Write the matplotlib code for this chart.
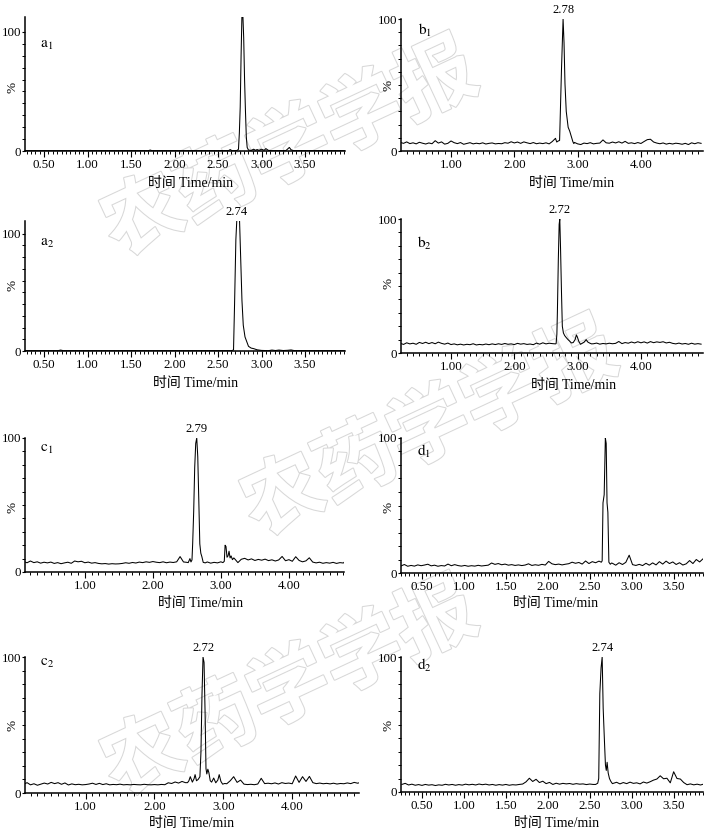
import numpy as np
import matplotlib
matplotlib.use('Agg')
import matplotlib.pyplot as plt
import matplotlib.patheffects as pe
from matplotlib.ticker import MultipleLocator, FixedLocator, FormatStrFormatter

plt.rcParams['font.family'] = ['Liberation Serif', 'Noto Sans CJK SC']
plt.rcParams['mathtext.fontset'] = 'stix'

# ---- data (relative abundance %, time in min) ----
# a1 / a2: clean standards, sparse points
a1_t = [0.28, 1.70, 1.72, 1.74, 2.55, 2.62, 2.64, 2.66, 2.70, 2.72,
        2.735, 2.745, 2.755, 2.765, 2.775, 2.785, 2.795, 2.805, 2.815, 2.825,
        2.835, 2.85, 2.88, 2.91, 2.93, 2.95, 2.97, 3.00, 3.03, 3.05,
        3.08, 3.12, 3.28, 3.32, 3.34, 3.37, 3.45, 3.96]
a1_y = [0.3, 0.3, 0.8, 0.3, 0.3, 0.3, 1.2, 0.3, 0.3, 0.5,
        1.5, 15, 37, 80, 115, 115, 95, 60, 34, 12,
        3, 0.8, 0.5, 1.5, 0.6, 1.2, 0.5, 1.5, 0.6, 2.0,
        0.5, 0.3, 0.3, 3.0, 1.0, 0.3, 0.3, 0.3]

a2_t = [0.28, 0.66, 0.69, 0.72, 2.25, 2.66, 2.678, 2.69, 2.705, 2.716,
        2.73, 2.747, 2.76, 2.775, 2.79, 2.81, 2.83, 2.85, 2.88, 2.91,
        2.95, 3.00, 3.08, 3.12, 3.16, 3.20, 3.25, 3.30, 3.34, 3.38, 3.96]
a2_y = [0.3, 0.3, 0.8, 0.3, 0.3, 0.3, 1.0, 40, 95, 112,
        112, 112, 80, 43, 22, 12, 8, 4, 2.5, 2.0,
        1.0, 0.5, 0.3, 0.8, 0.4, 0.8, 0.4, 0.6, 0.9, 0.3, 0.3]

# noisy traces: baseline samples on a scan grid + peak segments
b1_t0, b1_dt = 0.20, 0.05
b1_base = [6.5, 5.8, 6.9, 5.6, 6.2, 5.4, 6.6, 5.9, 5.3, 6.1,
           5.5, 7.8, 6.0, 6.9, 5.2, 5.8, 7.6, 6.3, 5.6, 6.4,
           5.1, 5.7, 6.3, 5.4, 5.9, 5.5, 6.2, 5.3, 5.8, 6.1,
           5.4, 5.7, 5.5, 6.3, 5.9, 7.0, 6.1, 6.8, 5.8, 6.9,
           6.2, 5.6, 6.4, 5.5, 6.0, 5.6, 6.2, 5.4, 7.2, 9.6,
           7.0, 6.5, 6.5, 6.5, 6.5, 6.5, 5.4, 4.9, 6.0, 5.6,
           6.3, 5.4, 5.8, 6.0, 8.4, 6.2, 5.9, 6.8, 6.1, 7.0,
           6.0, 7.3, 5.8, 6.2, 5.6, 6.4, 5.7, 7.2, 8.6, 8.9,
           6.8, 6.0, 5.5, 6.1, 5.2, 5.8, 5.3, 5.9, 5.6, 5.1,
           5.8, 4.9, 6.2, 5.5, 6.3, 5.8]
b1_peak_t = [2.67, 2.69, 2.715, 2.725, 2.745, 2.77, 2.785, 2.80, 2.82, 2.85,
             2.875, 2.90, 2.925, 2.94]
b1_peak_y = [6.8, 7.5, 8.0, 26, 62, 100, 82, 51, 30, 18,
             15, 11, 7, 5.6]

b2_t0, b2_dt = 0.20, 0.05
b2_base = [7.2, 6.4, 7.6, 6.8, 7.3, 6.5, 7.9, 7.1, 8.0, 7.0,
           7.8, 6.9, 8.1, 7.2, 6.6, 7.4, 6.3, 6.8, 6.1, 6.6,
           6.0, 6.5, 6.2, 6.9, 6.0, 6.4, 6.1, 6.7, 6.2, 6.8,
           6.3, 6.9, 6.4, 7.1, 6.5, 6.8, 6.3, 7.2, 6.6, 7.0,
           6.4, 6.7, 6.2, 7.4, 6.6, 7.6, 6.8, 7.3, 7.0, 6.8,
           7.0, 7.0, 7.0, 7.0, 7.0, 7.0, 7.0, 7.0, 7.0, 7.0, 7.0,
           6.9, 7.4, 6.6, 7.1, 6.8, 7.3, 6.9, 7.2, 8.6, 7.0,
           7.8, 7.3, 8.2, 7.5, 8.4, 7.6, 8.3, 7.4, 8.5, 7.7,
           8.3, 7.9, 8.4, 7.5, 8.0, 7.2, 6.8, 7.4, 6.7, 7.1,
           6.5, 7.3, 6.6, 7.0, 6.6]
b2_peak_t = [2.66, 2.672, 2.68, 2.695, 2.708, 2.718, 2.73, 2.745, 2.758, 2.775,
             2.795, 2.82, 2.848, 2.875, 2.90, 2.93, 2.96, 2.98, 2.995, 3.02,
             3.045, 3.07, 3.10, 3.135, 3.16, 3.19, 3.22]
b2_peak_y = [7.0, 14, 30, 70, 96, 100, 78, 45, 20, 15,
             13, 11.5, 10, 8.8, 7.5, 7.8, 10, 13.5, 12, 8.5,
             6.5, 7.2, 8.0, 10, 8.2, 7.4, 6.8]

c1_t0, c1_dt = 0.10, 0.05
c1_base = [7.8, 6.9, 8.2, 7.0, 7.6, 6.6, 7.3, 6.8, 7.4, 6.4,
           7.0, 6.2, 6.8, 7.3, 6.5, 8.2, 7.6, 8.0, 6.9, 7.4,
           6.6, 7.0, 6.4, 6.1, 6.3, 5.9, 6.2, 6.0, 6.1, 6.4,
           6.9, 6.5, 7.1, 6.7, 7.4, 7.0, 7.6, 7.2, 7.8, 7.3,
           7.0, 7.6, 6.9, 7.4, 7.1, 7.6, 11.5, 7.5, 7.2, 7.0,
           7.0, 7.0, 7.0, 7.0,
           7.5, 6.6, 7.2, 6.8, 7.6, 8.5, 7.0, 7.0, 7.0, 7.0,
           9.5, 10.2, 9.0, 9.8, 8.6, 9.4, 8.8, 9.6, 8.5, 9.1,
           8.2, 9.0, 11.6, 8.4, 9.2, 8.0, 11.4, 8.6, 7.6, 8.3,
           10.6, 7.4, 6.8, 7.3, 6.5, 7.0, 6.6, 7.2, 6.4, 7.0,
           6.7, 9.0]
c1_peak_t = [2.52, 2.545, 2.56, 2.575, 2.585, 2.60, 2.615, 2.63, 2.645, 2.66,
             2.675, 2.69, 2.705, 2.72, 2.74, 2.77]
c1_peak_y = [7.0, 10.0, 7.5, 9.0, 21, 45, 78, 96, 100, 86,
             54, 21, 14, 11.5, 7.2, 6.8]
c1_peak2_t = [3.03, 3.05, 3.062, 3.075, 3.09, 3.105, 3.12, 3.135, 3.15, 3.17,
              3.19, 3.21]
c1_peak2_y = [7.0, 8.0, 20, 19, 11, 12, 15.5, 10.5, 12, 9.2,
              10.5, 9.4]

c2_t0, c2_dt = 0.10, 0.05
c2_base = [6.4, 7.6, 6.0, 6.8, 5.7, 6.5, 7.3, 6.6, 7.8, 6.9,
           7.6, 6.4, 7.4, 5.9, 6.7, 6.1, 6.4, 6.0, 6.2, 6.6,
           7.2, 6.3, 7.1, 6.2, 6.8, 6.0, 6.3, 6.1, 6.5, 6.0,
           6.2, 6.0, 6.3, 6.1, 6.0, 6.4, 6.1, 6.0, 6.2, 6.0,
           6.3, 6.1, 7.5, 7.0, 8.1, 7.3, 8.5, 7.6,
           7.0, 7.0, 7.0, 7.0, 7.0, 7.0, 7.0, 7.0, 7.0, 7.0, 7.0,
           6.8, 9.0, 12.0, 7.8, 9.5, 6.5, 6.2, 6.4, 6.1, 6.6,
           10.8, 6.9, 7.2, 6.8, 7.4, 6.6, 7.6, 7.0, 7.3, 6.8,
           12.5, 7.8, 12.0, 8.5, 12.2, 7.6, 6.9, 7.3, 6.8, 7.1,
           6.7, 7.2, 6.6, 7.0, 6.8, 7.4, 6.9, 7.8, 7.2, 7.9]
c2_peak_t = [2.48, 2.50, 2.52, 2.55, 2.575, 2.59, 2.61, 2.635, 2.66, 2.675,
             2.69, 2.705, 2.72, 2.735, 2.748, 2.76, 2.775, 2.79, 2.81, 2.83,
             2.86, 2.89, 2.92, 2.94, 2.965, 2.99, 3.02]
c2_peak_y = [7.6, 9.0, 12.0, 8.0, 10.5, 13.5, 9.0, 10.0, 12.0, 30,
             72, 100, 96, 59, 18, 14, 17.5, 15, 9.0, 8.0,
             11, 7.5, 9.5, 13.5, 8.5, 6.5, 7.0]

d1_t0, d1_dt = 0.25, 0.04
d1_base = [5.2, 6.3, 5.0, 5.6, 5.1, 6.0, 5.4, 5.9, 6.5, 5.3,
           5.8, 5.0, 5.5, 5.2, 6.6, 5.4, 6.2, 5.5, 5.1, 5.6,
           5.0, 5.4, 5.1, 5.7, 5.2, 5.5, 5.8, 7.4, 6.4, 7.0,
           6.1, 6.6, 5.8, 6.2, 5.6, 6.0, 5.5, 5.9, 6.8, 5.6,
           6.1, 5.7, 6.4, 5.9, 8.6, 6.8, 6.2, 6.6, 6.0, 6.5,
           6.9, 8.0, 7.2, 7.8, 6.6, 8.9, 7.0, 8.4, 7.6, 8.8,
           8.0, 8.0, 8.0,
           7.2, 5.8, 7.6, 6.3, 7.9, 13.2, 6.2, 5.6, 6.4, 5.5,
           7.2, 5.8, 7.5, 6.0, 8.4, 6.6, 8.8, 7.0, 8.2, 6.3,
           7.6, 5.9, 6.8, 9.2, 7.0, 10.0, 8.2, 10.5]
d1_peak_t = [2.62, 2.638, 2.648, 2.658, 2.672, 2.686, 2.696, 2.706, 2.716, 2.728,
             2.745, 2.76]
d1_peak_y = [8.5, 8.0, 9.0, 52, 58, 100, 96, 52, 45, 8.0,
             6.5, 7.4]

d2_t0, d2_dt = 0.26, 0.04
d2_base = [5.6, 6.4, 5.2, 5.8, 5.0, 5.5, 4.9, 5.6, 5.1, 5.4,
           4.8, 5.3, 5.0, 5.7, 5.2, 5.6, 5.0, 5.5, 5.1, 5.8,
           5.3, 5.7, 5.2, 5.9, 5.4, 5.8, 5.2, 5.6, 5.0, 5.5,
           5.1, 5.6, 5.0, 5.4, 5.2, 5.6, 5.9, 7.5, 10.2, 7.8,
           9.4, 7.0, 8.0, 6.2, 7.1, 5.6, 6.5, 5.8, 6.4, 6.0,
           6.3, 5.7, 6.2, 5.8, 6.0, 5.5, 5.9, 5.6,
           6.0, 6.0, 6.0, 6.0, 6.0,
           6.4, 7.2, 6.0, 7.0, 6.2, 7.3, 6.4, 6.8, 6.0, 7.4,
           6.6, 7.6, 8.8, 9.6, 12.0, 9.8, 10.2, 6.8, 15.0, 10.0,
           9.6, 7.0, 5.4, 6.0, 5.3, 5.8, 5.2, 5.9]
d2_peak_t = [2.57, 2.595, 2.607, 2.62, 2.635, 2.648, 2.66, 2.675, 2.687, 2.697,
             2.707, 2.72, 2.735, 2.75, 2.77]
d2_peak_y = [5.6, 6.5, 10, 73, 92, 100, 62, 38, 20, 16,
             22, 14, 10, 8, 6.2]

peak_labels = {'a2': '2.74', 'b1': '2.78', 'b2': '2.72',
               'c1': '2.79', 'c2': '2.72', 'd2': '2.74'}


def build_trace(t0, dt, base, segs):
    t = t0 + dt * np.arange(len(base))
    y = np.asarray(base, float)
    keep = np.ones(len(t), bool)
    for st, sy in segs:
        keep &= (t < st[0] - 1e-9) | (t > st[-1] + 1e-9)
    tt = np.concatenate([t[keep]] + [np.asarray(st, float) for st, _ in segs])
    yy = np.concatenate([y[keep]] + [np.asarray(sy, float) for _, sy in segs])
    o = np.argsort(tt)
    return tt[o], yy[o]


traces = {
    'a1': (np.array(a1_t), np.array(a1_y)),
    'a2': (np.array(a2_t), np.array(a2_y)),
    'b1': build_trace(b1_t0, b1_dt, b1_base, [(b1_peak_t, b1_peak_y)]),
    'b2': build_trace(b2_t0, b2_dt, b2_base, [(b2_peak_t, b2_peak_y)]),
    'c1': build_trace(c1_t0, c1_dt, c1_base, [(c1_peak_t, c1_peak_y),
                                              (c1_peak2_t, c1_peak2_y)]),
    'c2': build_trace(c2_t0, c2_dt, c2_base, [(c2_peak_t, c2_peak_y)]),
    'd1': build_trace(d1_t0, d1_dt, d1_base, [(d1_peak_t, d1_peak_y)]),
    'd2': build_trace(d2_t0, d2_dt, d2_base, [(d2_peak_t, d2_peak_y)]),
}

# ---- layout (pixels) ----
W, H = 706, 832
# name: (left, top, right, bottom), xlim, ymax, major, minor, label pos, % pos, xlabel pos
layout = {
    'a1': ((25, 17, 345, 151), (0.28, 3.96), 112.5, 0.5, 0.05, (47, 45), (13, 87), (191, 183)),
    'b1': ((401, 19, 703, 151), (0.21, 4.98), 100, 1.0, 0.1, (425, 30), (388, 85), (572, 183)),
    'a2': ((25, 221, 345, 351), (0.28, 3.96), 110.8, 0.5, 0.05, (47, 243), (13, 285), (196, 383)),
    'b2': ((401, 219, 703, 353), (0.21, 4.98), 100, 1.0, 0.1, (424, 243), (388, 283), (574, 385)),
    'c1': ((25, 438, 344, 572), (0.12, 4.81), 100, 1.0, 0.1, (47, 449), (13, 507), (201, 603)),
    'd1': ((401, 438, 703, 573), (0.25, 3.85), 100, 0.5, 0.05, (424, 451), (388, 507), (556, 603)),
    'c2': ((25, 657, 359, 793), (0.12, 4.97), 100, 1.0, 0.1, (47, 663), (13, 725), (192, 823)),
    'd2': ((401, 657, 703, 792), (0.25, 3.85), 100, 0.5, 0.05, (424, 665), (388, 725), (557, 823)),
}

fig = plt.figure(figsize=(W / 100, H / 100), dpi=100)


def fx(x):
    return x / W


def fy(y):
    return 1 - y / H


# watermark (kept inside the canvas)
for (wx, wy) in [(290, 150), (430, 430), (290, 690)]:
    fig.text(fx(wx), fy(wy), '农药学学报', fontsize=58, rotation=25,
             family='Noto Sans CJK SC', weight='bold', color='white',
             ha='center', va='center', zorder=-5,
             path_effects=[pe.withStroke(linewidth=1.5, foreground='#d8d8d8')])

for name, (rect, xlim, ymax, xmaj, xmin_, lab, pct, xl) in layout.items():
    l, t, r, b = rect
    ax = fig.add_axes([fx(l), fy(b), (r - l) / W, (b - t) / H])
    ax.patch.set_alpha(0)
    tt, yy = traces[name]
    ax.plot(tt, yy, color='black', lw=0.75)
    ax.set_xlim(*xlim)
    ax.set_ylim(0, ymax)
    for s in ['top', 'right']:
        ax.spines[s].set_visible(False)
    for s in ['left', 'bottom']:
        ax.spines[s].set_linewidth(1.1)
    ax.set_yticks([0, 100])
    ax.set_yticklabels(['0', '100'])
    ax.yaxis.set_minor_locator(FixedLocator(list(range(10, 100, 10))))
    ax.xaxis.set_major_locator(MultipleLocator(xmaj))
    ax.xaxis.set_minor_locator(MultipleLocator(xmin_))
    ax.xaxis.set_major_formatter(FormatStrFormatter('%.2f'))
    ax.tick_params(axis='x', which='major', direction='out', length=4.5,
                   width=0.8, labelsize=9.3, pad=1.5)
    ax.tick_params(axis='y', which='major', direction='out', length=2.5,
                   width=0.8, labelsize=9.3, pad=0.3)
    ax.tick_params(which='minor', direction='out', length=2.5, width=0.7)

    if name in peak_labels:
        i = int(np.argmax(yy))
        ax.annotate(peak_labels[name], xy=(tt[i], min(yy[i], ymax)),
                    xytext=(0, 2), textcoords='offset points',
                    ha='center', va='bottom', fontsize=9,
                    annotation_clip=False)

    letter, num = name[0], name[1]
    fig.text(fx(lab[0]), fy(lab[1]), r'$\mathrm{%s}_{%s}$' % (letter, num),
             fontsize=11, ha='center', va='center')
    fig.text(fx(pct[0]), fy(pct[1]), '%', fontsize=9.5, rotation=90,
             ha='center', va='center')
    fig.text(fx(xl[0]), fy(xl[1]), '时间 Time/min', fontsize=10,
             ha='center', va='center')

fig.savefig('out.png', dpi=100)
